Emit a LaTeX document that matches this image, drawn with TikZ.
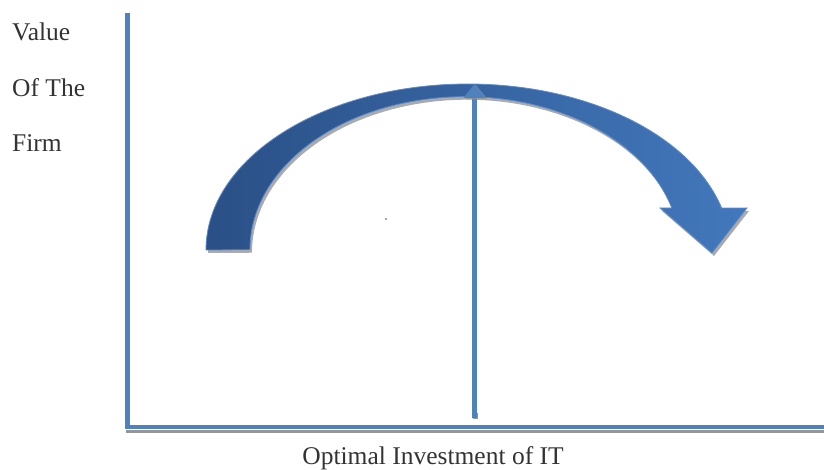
\documentclass[tikz,border=0pt]{standalone}
\usepackage{fontspec}
\setmainfont{Liberation Serif}
\begin{document}
\begin{tikzpicture}[x=1pt,y=1pt,
  axisline/.style={line width=4.5pt, draw=axisblue},
  lbl/.style={inner sep=0pt, font=\fontsize{25.5}{30}\selectfont, text=black!80},
]
\definecolor{axisblue}{RGB}{79,129,189}
\definecolor{banddark}{RGB}{42,80,134}
\definecolor{bandlight}{RGB}{66,120,188}
\definecolor{bandedge}{RGB}{96,140,205}
\definecolor{shadowgray}{RGB}{150,150,150}
\useasboundingbox (0,0) rectangle (824,469);

% curved band arrow outline (outer arc, head, inner arc)
\newcommand{\bandarrow}{%
  (206,219) arc[start angle=180, end angle=14.65, x radius=262, y radius=166]
  -- (747,261) -- (712,216) -- (660,261) -- (671.8,261)
  arc[start angle=15.83, end angle=180, x radius=215, y radius=153] -- cycle}

% drop shadow
\fill[shadowgray, opacity=0.8, shift={(2,-3)}] \bandarrow;
% the band itself
\path[left color=banddark, right color=bandlight, draw=bandedge, line width=0.8pt] \bandarrow;

% axes
\coordinate (ytop) at (127.5,454);
\coordinate (origin) at (127.5,42);
\coordinate (xend) at (824,42);
\draw[shadowgray, line width=3pt] (125.5,38) -- (824,38);
\draw[axisline, line cap=rect] (ytop) -- (origin);
\draw[axisline] (125.3,42) -- (xend);

% optimum marker
\coordinate (vbase) at (474.5,51);
\coordinate (vtop) at (474.5,372);
\draw[shadowgray, line width=4.5pt] (475.5,50) -- (475.5,56);
\draw[axisblue, line width=4.5pt] (vbase) -- (vtop);
\fill[shadowgray, opacity=0.7] (465.5,369.5) -- (487.5,369.5) -- (476.5,383.5) -- cycle;
\fill[axisblue] (463.5,371) -- (485.5,371) -- (474.5,385) -- cycle;

% stray dot
\fill[black!70] (386,250) circle (0.8);

% labels
\node[lbl, anchor=base west] (v1) at (12,428) {Value};
\node[lbl, anchor=base west] (v2) at (12,372) {Of The};
\node[lbl, anchor=base west] (v3) at (12,317) {Firm};
\node[lbl, anchor=base] (xl) at (433,4.5) {Optimal Investment of IT};
\end{tikzpicture}
\end{document}
